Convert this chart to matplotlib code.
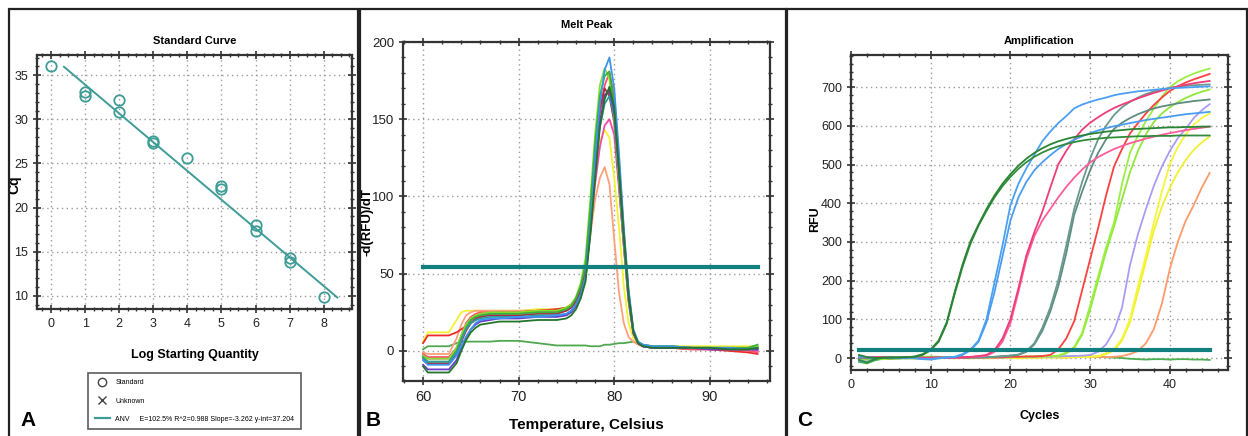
import matplotlib
matplotlib.use("Agg")
import matplotlib.pyplot as plt
from matplotlib.patches import Rectangle
from matplotlib.lines import Line2D
from matplotlib.ticker import MultipleLocator

plt.rcParams['font.family'] = ['Liberation Sans Narrow', 'Liberation Sans', 'DejaVu Sans']

# ---- Panel A: standard curve ----
log_qty = [0, 1, 1, 2, 2, 3, 3, 4, 5, 5, 6, 6, 7, 7, 8]
cq = [36.05, 33.1, 32.7, 32.2, 30.85, 27.6, 27.35, 25.6, 22.4, 22.1, 18.0, 17.35, 14.3, 13.8, 9.9]
fit_slope = -3.262
fit_intercept = 37.204
fit_range = [0.38, 8.4]
fit_label = "ANV     E=102.5% R^2=0.988 Slope=-3.262 y-int=37.204"

# ---- Panel B: melt peak ----
melt_temp = [60, 60.5, 61, 62, 62.7, 63.5, 64, 64.5, 65, 65.5, 66, 67, 68, 70, 72, 74, 75, 75.5, 76, 76.5,
             77, 77.5, 78, 78.5, 79, 79.5, 80, 80.5, 81, 81.5, 82, 82.5, 83, 84, 86, 88, 90, 92, 94, 95]
melt_ntc = [1, 3, 3, 3, 3, 5, 6, 6, 6, 6, 6, 6, 6.5, 6.5, 5, 3.5, 3.5, 3.5, 3.5, 3.5,
            3.5, 3, 3, 3, 4, 4, 4.5, 5, 5, 5.5, 6, 5, 3, 2, 2, 2, 2, 2, 2, 2]
melt_blue = [-6, -9, -9, -9, -9, -3, 3, 9, 14, 18, 20, 21, 21, 22, 22, 23, 24, 26, 30, 36,
             48, 80, 125, 160, 182, 190, 170, 128, 80, 40, 14, 6, 4, 3, 3, 2, 2, 2, 1, 2]
melt_ltgreen = [-3, -5, -5, -5, -5, 2, 10, 17, 21, 23, 24, 25, 25, 25, 26, 26, 28, 30, 35, 44,
                60, 98, 140, 172, 183, 176, 150, 110, 70, 34, 12, 6, 4, 3, 3, 2, 2, 2, 2, 3]
melt_green = [-4, -7, -7, -7, -7, 0, 8, 15, 20, 22, 23, 24, 24, 24, 25, 25, 27, 29, 34, 42,
              56, 92, 134, 165, 178, 181, 160, 118, 75, 36, 12, 5, 4, 3, 3, 2, 2, 2, 2, 4]
melt_pinkred = [-2, -4, -4, -4, -4, 2, 10, 18, 22, 24, 25, 25, 25, 25, 26, 26, 27, 29, 33, 40,
                52, 85, 125, 155, 172, 180, 165, 122, 78, 38, 13, 5, 3, 2, 2, 1, 1, 1, 0, -1]
melt_maroon = [-5, -8, -8, -8, -8, -2, 6, 13, 18, 21, 22, 23, 23, 23, 24, 24, 26, 28, 32, 40,
               52, 85, 125, 157, 170, 165, 148, 108, 68, 32, 11, 5, 3, 2, 2, 2, 1, 1, 1, 1]
melt_dkgreen = [-10, -14, -14, -14, -14, -8, 0, 7, 12, 15, 17, 18, 19, 19, 20, 20, 21, 23, 27, 34,
                45, 75, 112, 145, 163, 171, 158, 118, 76, 37, 13, 5, 3, 2, 2, 2, 2, 1, 1, 2]
melt_teal = [-5, -7, -7, -7, -7, -1, 7, 14, 18, 20, 21, 22, 22, 22, 23, 23, 24, 26, 30, 37,
             48, 78, 115, 145, 160, 165, 152, 114, 72, 35, 12, 5, 3, 2, 2, 2, 2, 1, 1, 1]
melt_magenta = [-3, -5, -5, -5, -5, 1, 9, 16, 20, 22, 23, 24, 24, 24, 25, 25, 26, 28, 32, 39,
                50, 78, 108, 132, 146, 150, 140, 105, 68, 33, 12, 5, 3, 2, 2, 2, 1, 1, 1, 0]
melt_yellow = [6, 12, 12, 12, 12, 20, 25, 26, 26, 26, 26, 26, 26, 26, 27, 27, 28, 30, 34, 42,
               55, 85, 118, 136, 143, 138, 112, 80, 42, 18, 8, 5, 4, 3, 3, 3, 3, 3, 3, 3]
melt_orange = [-1, -2, -2, -2, -2, 8, 17, 23, 25, 26, 26, 26, 26, 26, 26, 27, 27, 29, 33, 40,
               52, 75, 98, 112, 119, 108, 72, 38, 18, 9, 6, 4, 3, 3, 3, 2, 2, 2, 2, 2]
melt_red = [5, 10, 10, 10, 10, 12, 14, 16, 18, 20, 22, 24, 25, 25, 26, 27, 28, 30, 34, 42,
            54, 88, 128, 156, 166, 168, 155, 115, 73, 35, 12, 5, 3, 2, 2, 1, 1, 0, -1, -2]
melt_purple = [-9, -12, -12, -12, -12, -6, 2, 9, 14, 17, 19, 20, 21, 21, 22, 22, 23, 25, 29, 36,
               47, 78, 117, 148, 165, 169, 155, 116, 74, 36, 12, 5, 3, 2, 2, 2, 1, 1, 1, 1]
melt_threshold = 54
melt_thr_range = [60, 95]

# ---- Panel C: amplification ----
cycles = list(range(1, 46))
amp_ntc = [-10, -14, -6, -2, -1, 0, 1, 2, 1, 2, 3, 2, 1, 2, 3, 2, 3, 2, 1, 2, 3, 2, 3, 4, 3, 2, 3, 4, 3, 4,
           3, 2, 1, 0, -2, -3, -4, -3, -3, -4, -3, -3, -4, -4, -5]
amp_dkgreen_1 = [8, 2, 0, 1, 2, 1, 2, 4, 10, 22, 45, 92, 170, 242, 302, 345, 385, 420, 450, 475,
                 497, 515, 530, 542, 552, 560, 566, 571, 575, 579, 582, 585, 587, 589, 591, 592, 593, 594,
                 595, 596, 596, 597, 597, 598, 598]
amp_dkgreen_2 = [-5, -12, -3, 0, 1, 2, 2, 3, 8, 20, 42, 88, 165, 236, 296, 342, 380, 415, 444, 468,
                 489, 506, 520, 531, 540, 547, 553, 558, 562, 565, 567, 569, 570, 571, 572, 573, 573, 574,
                 574, 574, 575, 575, 575, 575, 575]
amp_blue_1 = [3, 2, 1, 0, 1, 0, -1, 0, -2, -3, 0, 2, 3, 10, 22, 45, 100, 195, 290, 395,
              450, 490, 525, 560, 585, 607, 625, 645, 655, 662, 668, 673, 679, 683, 686, 689, 691, 693,
              695, 697, 698, 699, 700, 701, 702]
amp_blue_2 = [-8, -10, -2, 1, 0, 1, 0, -1, -3, -4, -1, 1, 2, 8, 20, 42, 92, 170, 262, 355,
              415, 455, 485, 506, 524, 540, 553, 564, 573, 581, 588, 594, 599, 603, 607, 611, 615, 618,
              621, 624, 627, 630, 632, 634, 636]
amp_magenta = [2, 1, 3, 2, 1, 0, 2, 3, 1, 0, 1, 0, 1, 2, 3, 5, 8, 20, 50, 100,
               180, 265, 325, 378, 440, 500, 535, 565, 590, 608, 622, 635, 646, 655, 663, 671, 678, 685,
               691, 697, 702, 706, 710, 713, 716]
amp_pink = [5, 3, 2, 3, 2, 1, 3, 2, 0, 1, 0, 1, 0, 1, 2, 4, 6, 16, 42, 90,
            170, 255, 315, 355, 385, 415, 442, 466, 487, 505, 519, 530, 540, 548, 555, 561, 567, 572,
            577, 581, 585, 589, 592, 595, 598]
amp_grey_1 = [-2, 0, 1, 0, -1, 0, 1, 0, 1, 0, 0, 1, 0, 1, 2, 1, 2, 3, 4, 6,
              9, 18, 38, 78, 130, 200, 290, 385, 455, 515, 565, 600, 628, 648, 662, 673, 682, 689,
              694, 698, 701, 703, 705, 706, 707]
amp_grey_2 = [1, -1, 0, 1, 0, -1, 0, 1, 0, 1, 1, 0, 1, 0, 1, 2, 2, 3, 5, 6,
              8, 16, 35, 70, 120, 185, 270, 370, 430, 485, 530, 565, 592, 608, 620, 630, 638, 645,
              650, 654, 658, 661, 664, 666, 668]
amp_red = [0, 2, 1, 0, -1, 1, 2, 1, 0, 1, 2, 1, 0, 1, 2, 1, 2, 1, 2, 3,
           3, 4, 4, 5, 8, 22, 50, 95, 175, 255, 335, 420, 495, 540, 580, 607, 632, 654,
           673, 690, 702, 712, 720, 727, 734]
amp_ltgreen_1 = [-4, -2, 0, -3, -2, -1, 0, 2, 3, 4, 3, 2, 3, 2, 1, 2, 3, 2, 3, 2,
                 3, 4, 4, 5, 5, 6, 14, 28, 65, 135, 210, 285, 350, 450, 530, 575, 612, 645,
                 675, 700, 715, 726, 735, 742, 748]
amp_ltgreen_2 = [-2, -4, -1, -2, -3, -1, 1, 2, 2, 3, 2, 3, 2, 1, 2, 3, 2, 3, 2, 3,
                 2, 3, 4, 4, 5, 5, 12, 26, 60, 125, 200, 275, 340, 410, 480, 535, 578, 610,
                 632, 648, 661, 672, 681, 688, 694]
amp_lavender = [0, 1, -1, 0, 1, 0, 1, 0, -1, 0, 1, 0, 1, 0, 1, 2, 1, 2, 1, 2,
                3, 2, 3, 4, 3, 4, 5, 5, 6, 8, 16, 35, 70, 130, 240, 320, 385, 445,
                495, 535, 568, 592, 620, 640, 656]
amp_yellow_1 = [-3, -1, 0, -2, -1, 0, -1, 0, 1, 0, -1, 0, 1, 0, -1, 0, 1, 0, 1, 0,
                -1, 0, 1, 2, 1, 2, 1, 2, 3, 4, 5, 12, 22, 50, 100, 185, 265, 350,
                430, 500, 545, 578, 603, 620, 632]
amp_yellow_2 = [2, 0, -1, 0, 1, 0, -1, -2, -1, 0, 1, 0, -1, 0, 1, 0, -1, 0, 1, 0,
                1, 2, 0, 1, 2, 1, 2, 3, 2, 3, 4, 10, 20, 45, 92, 170, 250, 330,
                390, 440, 480, 512, 538, 557, 572]
amp_orange = [-6, -4, -2, 0, -1, 0, 1, 0, -1, 0, 1, 0, 1, 2, 1, 0, 1, 2, 1, 0,
              1, 2, 1, 2, 3, 2, 1, 2, 3, 2, 3, 2, 3, 5, 10, 18, 38, 75, 140, 230,
              300, 355, 395, 440, 478]
amp_threshold = 20
amp_thr_range = [1, 45]

TEAL = '#138080'
PT = '#3e9c96'
GRID = dict(color='#9a9a9a', linestyle=(0, (1, 2.5)), linewidth=1.0)
W, H = 1248, 436


def frac(x0, x1, ytop, ybot):
    return [x0 / W, (H - ybot) / H, (x1 - x0) / W, (ybot - ytop) / H]


def style_axes(ax, fs):
    for s in ax.spines.values():
        s.set_linewidth(1.6)
        s.set_color('#333333')
    ax.tick_params(which='both', direction='inout', top=True, right=True,
                   labeltop=False, labelright=False, colors='#333333', labelcolor='#222222')
    ax.tick_params(which='major', length=6, width=1.2, labelsize=fs)
    ax.tick_params(which='minor', length=3.5, width=1.0)
    ax.grid(True, which='major', **GRID)
    ax.set_axisbelow(True)


fig = plt.figure(figsize=(W / 100, H / 100), dpi=100)

# panel borders
for x0, x1 in [(9, 358), (360, 786), (787, 1247)]:
    fig.add_artist(Rectangle((x0 / W, -0.02), (x1 - x0) / W, (H - 9) / H + 0.02,
                             transform=fig.transFigure, fill=False, lw=1.6, ec='#222222'))

# ---- A ----
axA = fig.add_axes(frac(37, 352, 55, 309))
axA.plot(fit_range, [fit_intercept + fit_slope * x for x in fit_range], color=PT, lw=1.4)
axA.plot(log_qty, cq, linestyle='none', marker='o', ms=7.5, mfc='none', mec=PT, mew=1.3)
axA.set_xlim(-0.41, 8.83)
axA.set_ylim(8.5, 37.3)
axA.xaxis.set_major_locator(MultipleLocator(1))
axA.xaxis.set_minor_locator(MultipleLocator(0.25))
axA.yaxis.set_major_locator(MultipleLocator(5))
axA.yaxis.set_minor_locator(MultipleLocator(1))
style_axes(axA, 9)
axA.set_title('Standard Curve', fontsize=8, fontweight='bold', pad=8)
axA.set_xlabel('Log Starting Quantity', fontsize=9, fontweight='bold', labelpad=14)
axA.set_ylabel('Cq', fontsize=10, fontweight='bold')
axA.yaxis.set_label_coords((21 - 37) / 315, 0.49)

handles = [Line2D([], [], linestyle='none', marker='o', mfc='none', mec='#444444', ms=6),
           Line2D([], [], linestyle='none', marker='x', color='#444444', ms=6),
           Line2D([], [], color=PT, lw=1.6)]
leg = fig.legend(handles, ['Standard', 'Unknown', fit_label], loc='center',
                 bbox_to_anchor=((103 + 286) / 2 / W, (H - 401) / H), fontsize=5,
                 frameon=True, fancybox=False, edgecolor='#333333', handlelength=2.2,
                 labelspacing=1.6, borderpad=0.9, handletextpad=0.8)
leg.get_frame().set_linewidth(1.2)

# ---- B ----
axB = fig.add_axes(frac(403, 770, 42, 381))
melt_series = [(melt_ntc, '#4fa84f'), (melt_yellow, '#f2f230'), (melt_orange, '#ffa07a'),
               (melt_red, '#ee2a2a'), (melt_pinkred, '#ff4d6a'), (melt_magenta, '#f04aa8'),
               (melt_maroon, '#b02a4a'), (melt_ltgreen, '#7fe22a'), (melt_green, '#3cae3c'),
               (melt_teal, '#2d9c9c'), (melt_purple, '#6a3ccc'), (melt_blue, '#3d94ee'),
               (melt_dkgreen, '#23752b')]
for vals, col in melt_series:
    axB.plot(melt_temp, vals, color=col, lw=1.3)
axB.plot(melt_thr_range, [melt_threshold] * 2, color=TEAL, lw=3)
axB.set_xlim(57.9, 96.3)
axB.set_ylim(-19.5, 200)
axB.xaxis.set_major_locator(MultipleLocator(10))
axB.xaxis.set_minor_locator(MultipleLocator(2))
axB.yaxis.set_major_locator(MultipleLocator(50))
axB.yaxis.set_minor_locator(MultipleLocator(10))
style_axes(axB, 9.5)
axB.tick_params(axis='x', labelsize=10.5)
axB.set_title('Melt Peak', fontsize=8, fontweight='bold', pad=10)
axB.set_xlabel('Temperature, Celsius', fontsize=11, fontweight='bold', labelpad=10)
axB.set_ylabel('-d(RFU)/dT', fontsize=9.5, fontweight='bold')
axB.yaxis.set_label_coords((373 - 403) / 367, 0.47)

# ---- C ----
axC = fig.add_axes(frac(851, 1228, 55, 370))
amp_series = [(amp_ntc, '#4caf50'), (amp_orange, '#ff9a6a'), (amp_yellow_2, '#f0f030'),
              (amp_yellow_1, '#f5f53a'), (amp_lavender, '#a99cf5'), (amp_ltgreen_2, '#8fe83a'),
              (amp_ltgreen_1, '#99f040'), (amp_red, '#ff4040'), (amp_grey_2, '#5e8c80'),
              (amp_grey_1, '#6a9a8e'), (amp_pink, '#ff5c9a'), (amp_magenta, '#f03c78'),
              (amp_blue_2, '#4a9df0'), (amp_blue_1, '#4aa0f5'), (amp_dkgreen_2, '#2f8c3a'),
              (amp_dkgreen_1, '#2a8434')]
for vals, col in amp_series:
    axC.plot(cycles, vals, color=col, lw=1.3)
axC.plot(amp_thr_range, [amp_threshold] * 2, color=TEAL, lw=3)
axC.set_xlim(0, 47.3)
axC.set_ylim(-31, 783)
axC.xaxis.set_major_locator(MultipleLocator(10))
axC.xaxis.set_minor_locator(MultipleLocator(2))
axC.yaxis.set_major_locator(MultipleLocator(100))
axC.yaxis.set_minor_locator(MultipleLocator(20))
style_axes(axC, 9)
axC.set_title('Amplification', fontsize=8, fontweight='bold', pad=8)
axC.set_xlabel('Cycles', fontsize=9, fontweight='bold', labelpad=14)
axC.set_ylabel('RFU', fontsize=9, fontweight='bold')
axC.yaxis.set_label_coords((821 - 851) / 377, 0.48)

# panel letters
for x, lab in [(20, 'A'), (366, 'B'), (797, 'C')]:
    fig.text(x / W, (H - 420) / H, lab, fontsize=15, fontweight='bold',
             family=['Liberation Sans', 'DejaVu Sans'], va='center', ha='left')

fig.savefig('out.png', dpi=100)
